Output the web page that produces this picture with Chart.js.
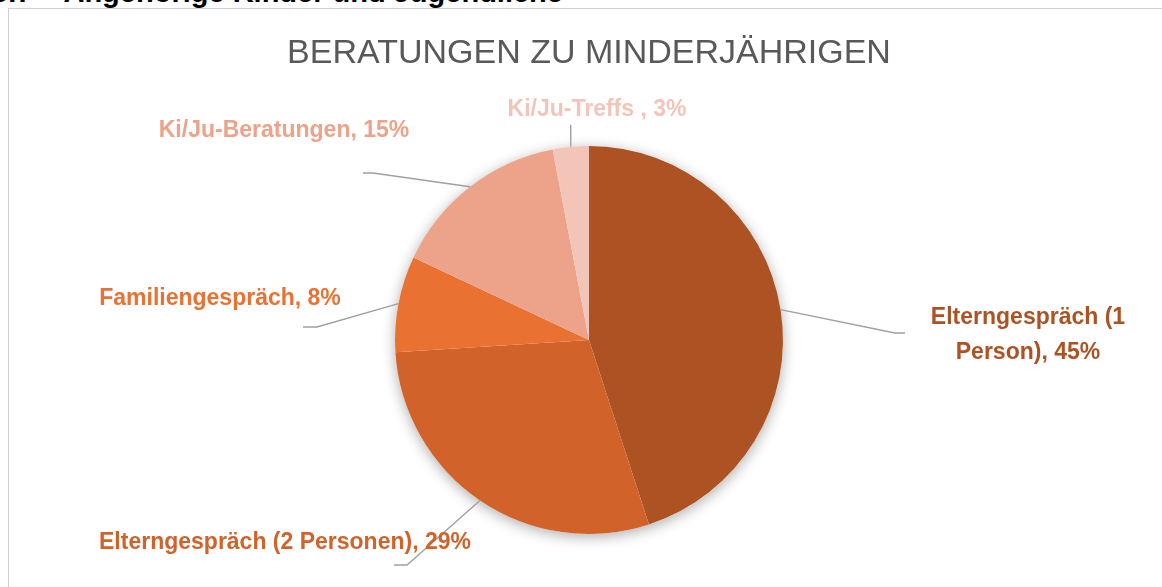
<!DOCTYPE html>
<html><head><meta charset="utf-8">
<script src="https://cdn.jsdelivr.net/npm/chart.js@4.4.1/dist/chart.umd.min.js"></script>
<style>
html,body{margin:0;padding:0;background:#fff;overflow:hidden;width:1162px;height:587px;}
#heading{position:absolute;left:-8px;top:-23px;font:bold 29px "Liberation Sans",Arial,sans-serif;color:#000;white-space:pre;line-height:30px;}
#frame{position:absolute;left:8px;top:8px;width:1200px;height:640px;border:1.5px solid #d0d0d0;box-sizing:border-box;}
canvas{position:absolute;left:0;top:0;}
</style></head><body>
<div id="heading">5.7    Angehörige Kinder und Jugendliche</div>
<div id="frame"></div>
<canvas id="c" width="1162" height="587"></canvas>
<script>
const chartTitle = 'BERATUNGEN ZU MINDERJÄHRIGEN';
const categories = ['Elterngespräch (1 Person)', 'Elterngespräch (2 Personen)', 'Familiengespräch', 'Ki/Ju-Beratungen', 'Ki/Ju-Treffs '];
const shares = [45, 29, 8, 15, 3];
const sliceColors = ['#AD5222', '#D0622A', '#E97132', '#EDA28A', '#F3C4B8'];

// label placement relative to pie centre (layout only)
const labelLayout = [
  {elbow: [306, -7], end: [316, -7], text: [439, -16], maxW: 200, lh: 35},
  {elbow: [-182, 225], end: [-195, 225], text: [-304, 209]},
  {elbow: [-272, -13], end: [-286, -13], text: [-369, -35]},
  {elbow: [-216, -167], end: [-226, -167], text: [-305, -203]},
  {elbow: null, end: [null, -215], text: [8, -224]}
];
const labelFont = 'bold 23px "Liberation Sans", Arial, sans-serif';

function wrap(ctx, text, maxW) {
  if (!maxW) return [text];
  const words = text.split(' ');
  const lines = [];
  let cur = '';
  for (const w of words) {
    const t = cur ? cur + ' ' + w : w;
    if (cur && ctx.measureText(t).width > maxW) { lines.push(cur); cur = w; }
    else cur = t;
  }
  if (cur) lines.push(cur);
  return lines;
}

const shadowPlugin = {
  id: 'pieShadow',
  beforeDatasetsDraw(chart) {
    const arc = chart.getDatasetMeta(0).data[0];
    if (!arc) return;
    const ctx = chart.ctx;
    ctx.save();
    ctx.shadowColor = 'rgba(0,0,0,0.32)';
    ctx.shadowBlur = 14;
    ctx.shadowOffsetY = 3;
    ctx.fillStyle = '#ffffff';
    ctx.beginPath();
    ctx.arc(arc.x, arc.y, arc.outerRadius, 0, Math.PI * 2);
    ctx.fill();
    ctx.restore();
  }
};

const labelPlugin = {
  id: 'pieLabels',
  afterDatasetsDraw(chart) {
    const ctx = chart.ctx;
    const meta = chart.getDatasetMeta(0);
    ctx.save();
    meta.data.forEach((arc, i) => {
      const L = labelLayout[i];
      const mid = (arc.startAngle + arc.endAngle) / 2;
      const ex = arc.x + arc.outerRadius * Math.cos(mid);
      const ey = arc.y + arc.outerRadius * Math.sin(mid);
      ctx.strokeStyle = '#A0A0A0';
      ctx.lineWidth = 1.4;
      ctx.beginPath();
      ctx.moveTo(ex, ey);
      if (L.elbow) ctx.lineTo(arc.x + L.elbow[0], arc.y + L.elbow[1]);
      const endX = L.end[0] === null ? ex : arc.x + L.end[0];
      ctx.lineTo(endX, arc.y + L.end[1]);
      ctx.stroke();

      ctx.font = labelFont;
      ctx.fillStyle = sliceColors[i];
      ctx.textAlign = 'center';
      ctx.textBaseline = 'alphabetic';
      const text = categories[i] + ', ' + shares[i] + '%';
      const lines = wrap(ctx, text, L.maxW);
      lines.forEach((ln, k) => {
        ctx.fillText(ln, arc.x + L.text[0], arc.y + L.text[1] + k * (L.lh || 0));
      });
    });
    ctx.restore();
  }
};

new Chart(document.getElementById('c'), {
  type: 'pie',
  data: {
    labels: categories,
    datasets: [{
      data: shares,
      backgroundColor: sliceColors,
      borderWidth: 0,
      hoverOffset: 0,
      offset: 0
    }]
  },
  options: {
    responsive: false,
    animation: false,
    events: [],
    layout: {padding: {left: 200, right: 184, top: 0, bottom: 53}},
    plugins: {
      legend: {display: false},
      tooltip: {enabled: false},
      title: {
        display: true,
        text: chartTitle,
        color: '#595959',
        font: {family: '"Liberation Sans", Arial, sans-serif', size: 34, weight: 'normal', lineHeight: 1.2},
        padding: {top: 33.6, bottom: 71.6}
      }
    }
  },
  plugins: [shadowPlugin, labelPlugin]
});
</script>
</body></html>
